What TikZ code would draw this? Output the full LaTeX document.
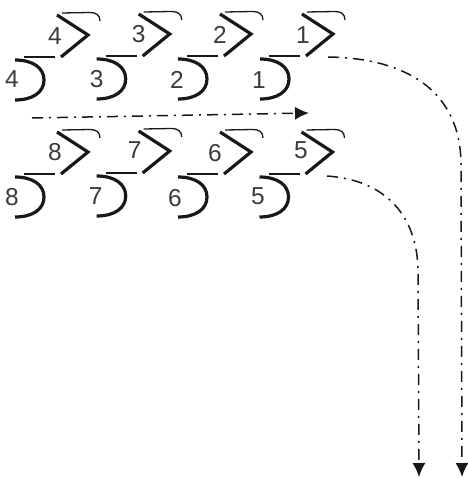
\documentclass[tikz,border=0pt]{standalone}
\usepackage{fontspec}
\setmainfont{Liberation Sans}
\usetikzlibrary{arrows.meta}
\definecolor{ink}{HTML}{1A1717}
\tikzset{
  x=1pt,y=-1pt,
  heavy/.style={line width=3.2pt,color=ink,line join=miter},
  thin line/.style={line width=1.3pt,color=ink},
  digit/.style={font=\fontsize{24.5}{26}\selectfont,text=ink!85,inner sep=0pt},
  flow/.style={line width=1.5pt,color=ink,dash pattern=on 11pt off 6pt on 2pt off 6pt,
    -{Latex[length=14pt,width=13pt,color=ink]}},
  pics/cell/.style args={#1/#2/#3/#4/#5}{code={
    \draw[heavy] (57,15) -- (88,35) -- (61,57);
    \draw[thin line] (62,13) -- (90,12.5) .. controls (96,12.5) and (100,15) .. (100,21);
    \draw[thin line] (24,57) -- (55,57);
    \draw[heavy] (15,60) .. controls (33,60) and (44,68) .. (44,80) .. controls (44,92) and (33,100) .. (15,100);
    \node[digit] (u#1) at (#2,#3) {#1};
    \node[digit] (l#1) at (#4,#5) {#1};
  }}
}
\begin{document}
\begin{tikzpicture}
\useasboundingbox (0,0) rectangle (467,478);
\pic at (0,0) {cell=4/55/36/12/79};
\pic at (81.7,-1) {cell=3/57/35/15/80};
\pic at (163,-1) {cell=2/57/36/14/81};
\pic at (245,-1) {cell=1/58/36/14/81};
\pic at (0,117) {cell=8/55/35/12/80};
\pic at (81.7,116) {cell=7/53/34/14/80};
\pic at (163,117) {cell=6/52/36/12/81};
\pic at (244.5,117) {cell=5/56.5/33/13.5/79};
\coordinate (a1) at (32,118);
\coordinate (a2) at (309,113);
\draw[flow] (a1) -- (a2);
\coordinate (b1) at (328,57);
\coordinate (b2) at (462,477);
\draw[flow] (b1) .. controls (405,58) and (461,90) .. (461,165) -- (b2);
\coordinate (c1) at (327,176);
\coordinate (c2) at (419,477);
\draw[flow] (c1) .. controls (385,180) and (417,215) .. (418,270) -- (c2);
\end{tikzpicture}
\end{document}
